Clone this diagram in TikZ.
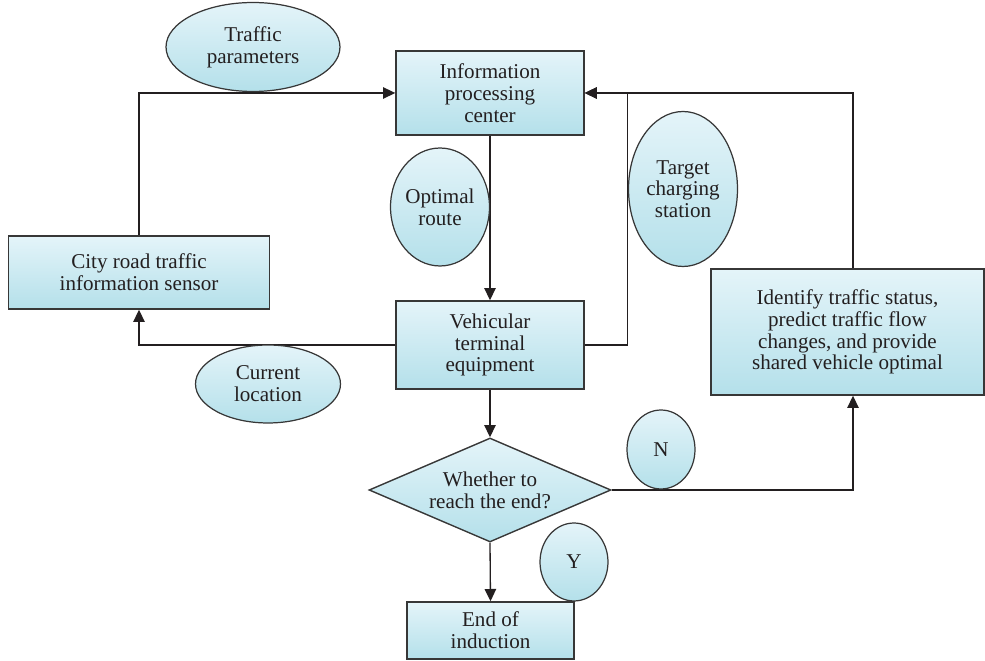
\documentclass[tikz,border=0pt]{standalone}
\usepackage{fontspec}
\setmainfont{Liberation Serif}
\usetikzlibrary{shapes.geometric,arrows.meta}
\definecolor{fillTop}{RGB}{228,244,249}
\definecolor{fillBot}{RGB}{180,224,234}
\definecolor{ink}{RGB}{35,31,32}
\definecolor{edge}{RGB}{55,55,55}
\tikzset{
  shaded/.style={top color=fillTop, bottom color=fillBot, draw=edge, line width=0.8pt,
    text=ink, align=center, inner sep=0pt,
    font=\fontsize{12}{12.4}\selectfont},
  procbox/.style={shaded, rectangle},
  tagoval/.style={shaded, ellipse, line width=0.7pt},
  decision/.style={shaded, diamond, aspect=2.33},
  flow/.style={draw=ink, line width=0.75pt},
  flowarrow/.style={flow, -{Triangle[length=7pt,width=6.5pt]}},
}
\begin{document}
\begin{tikzpicture}[x=0.02cm, y=-0.02cm]
\useasboundingbox (0,0) rectangle (985,661);

% process boxes
\node[procbox, minimum width=3.76cm, minimum height=1.68cm] (info) at (490,93)
  {Information\\processing\\center};
\node[procbox, minimum width=3.76cm, minimum height=1.76cm] (vehic) at (490,345)
  {Vehicular\\terminal\\equipment};
\node[procbox, minimum width=5.22cm, minimum height=1.46cm] (sensor) at (139,272.5)
  {City road traffic\\information sensor};
\node[procbox, minimum width=5.46cm, minimum height=2.52cm] (status) at (847.5,332)
  {Identify traffic status,\\predict traffic flow\\changes, and provide\\shared vehicle optimal};
\node[procbox, minimum width=3.34cm, minimum height=1.14cm] (finish) at (490.5,630.5)
  {End of\\induction};
\node[decision, minimum width=4.84cm, minimum height=2.08cm] (reach) at (490,490)
  {Whether to\\reach the end?};

% junction of the two feedback lines on the right
\coordinate (tap) at (627.5,93);

% connectors
\draw[flowarrow] (sensor.north) |- (info.west);
\draw[flowarrow] (info.south) -- (vehic.north);
\draw[flowarrow] (vehic.west) -| (sensor.south);
\draw[flowarrow] (vehic.east) -| (tap) -- (info.east);
\draw[flowarrow] ([xshift=0.11cm]status.north) |- (info.east);
\draw[flowarrow] (vehic.south) -- (reach.north);
\draw[flowarrow] (reach.east) -| ([xshift=0.11cm]status.south);
\draw[flowarrow] (reach.south) -- (finish.north);

% labels on the flows
\node[tagoval, minimum width=3.48cm, minimum height=1.78cm] (traffic) at (253,47)
  {Traffic\\parameters};
\node[tagoval, minimum width=1.98cm, minimum height=2.36cm] (route) at (440,207)
  {Optimal\\route};
\node[tagoval, minimum width=2.18cm, minimum height=3.10cm] (target) at (683,189)
  {Target\\charging\\station};
\node[tagoval, minimum width=2.90cm, minimum height=1.56cm] (location) at (268,384)
  {Current\\location};
\node[tagoval, minimum width=1.36cm, minimum height=1.58cm] (no) at (661,449.5) {N};
\node[tagoval, minimum width=1.36cm, minimum height=1.56cm] (yes) at (574,562) {Y};
\end{tikzpicture}
\end{document}
